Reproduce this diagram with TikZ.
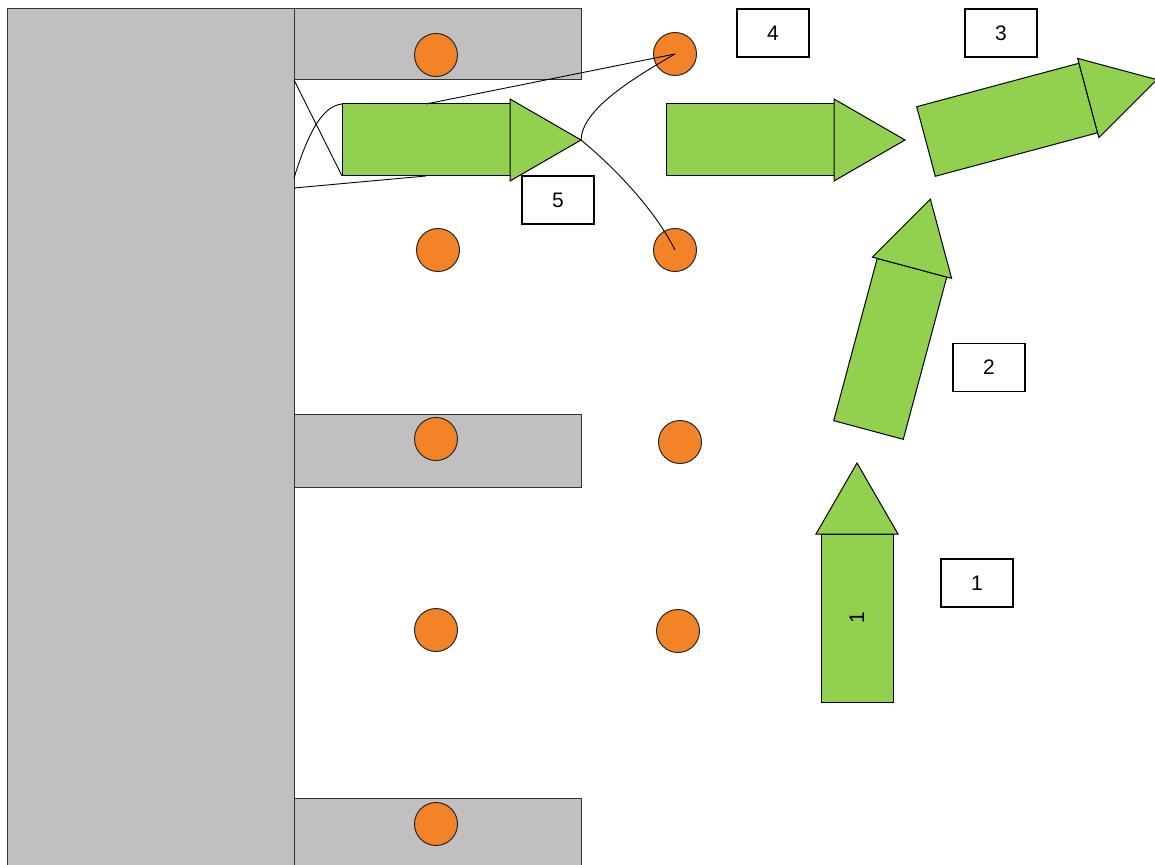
\documentclass[tikz,border=0pt]{standalone}
\usepackage{fontspec}
\setmainfont{Liberation Sans}
\usetikzlibrary{calc}
\definecolor{wallgray}{HTML}{C0C0C0}
\definecolor{arrowgreen}{HTML}{92D050}
\definecolor{postorange}{HTML}{F28427}

\tikzset{
  greenarrow/.pic={
    \draw[fill=arrowgreen, line width=0.5pt] (0,-36) rectangle (168,36);
    \draw[fill=arrowgreen, line width=0.5pt] (168,-41) -- (239,0) -- (168,41) -- cycle;
    \coordinate (-tl) at (0,-36);
    \coordinate (-bl) at (0,36);
    \coordinate (-top) at (84,-36);
    \coordinate (-bot) at (84,36);
    \coordinate (-mid) at (84,0);
    \coordinate (-tip) at (239,0);
  }
}

\begin{document}
\begin{tikzpicture}[
    x=0.5pt, y=-0.5pt,
    wall/.style={draw=black!80, fill=wallgray, line width=0.5pt},
    post/.style={circle, draw=black!85, fill=postorange, minimum size=21.5pt, inner sep=0pt, line width=0.5pt},
    tag/.style={draw, fill=white, minimum width=36pt, minimum height=24pt, line width=0.7pt, font=\fontsize{10.5}{12}\selectfont},
    link/.style={line width=0.45pt}
  ]
  \useasboundingbox (0,0) rectangle (1155,865);

  \draw[wall] (7,9) rectangle (294,867);
  \draw[wall] (294,9) rectangle (581,80);
  \draw[wall] (294,415) rectangle (581,487);
  \draw[wall] (294,798) rectangle (581,867);
  \coordinate (barcorner) at (294,80);
  \coordinate (wallA) at (294,178);
  \coordinate (wallB) at (294,188);

  \node[post] (p1) at (436,55) {};
  \node[post] (p2) at (675,54) {};
  \node[post] (p3) at (438,250) {};
  \node[post] (p4) at (675,250) {};
  \node[post] (p5) at (436,439) {};
  \node[post] (p6) at (680,442) {};
  \node[post] (p7) at (436,630) {};
  \node[post] (p8) at (678,631) {};
  \node[post] (p9) at (436,824) {};

  \pic (a5) at (342,140) {greenarrow};
  \pic (a4) at (666,140) {greenarrow};
  \pic[rotate=15] (a3) at (926,141.5) {greenarrow};
  \pic[rotate=75] (a2) at (868.5,430) {greenarrow};
  \pic[rotate=90] (a1) at (857,702) {greenarrow};
  \node[rotate=90, font=\fontsize{10.5}{12}\selectfont] (a1text) at (a1-mid) {1};

  \draw[link] (barcorner) -- (a5-bl);
  \draw[link] (wallA) .. controls (306,140) and (320,106) .. (a5-tl);
  \draw[link] (wallB) -- (a5-bot);
  \draw[link] (a5-top) -- (p2.center);
  \draw[link] (a5-tip) .. controls (582,110) and (630,80) .. (p2.center);
  \draw[link] (a5-tip) .. controls (615,168) and (655,210) .. (p4.center);

  \node[tag] (t4) at (773,33) {4};
  \node[tag] (t3) at (1001,33) {3};
  \node[tag] (t5) at (558,200) {5};
  \node[tag] (t2) at (989,367.5) {2};
  \node[tag] (t1) at (977,583) {1};
\end{tikzpicture}
\end{document}
